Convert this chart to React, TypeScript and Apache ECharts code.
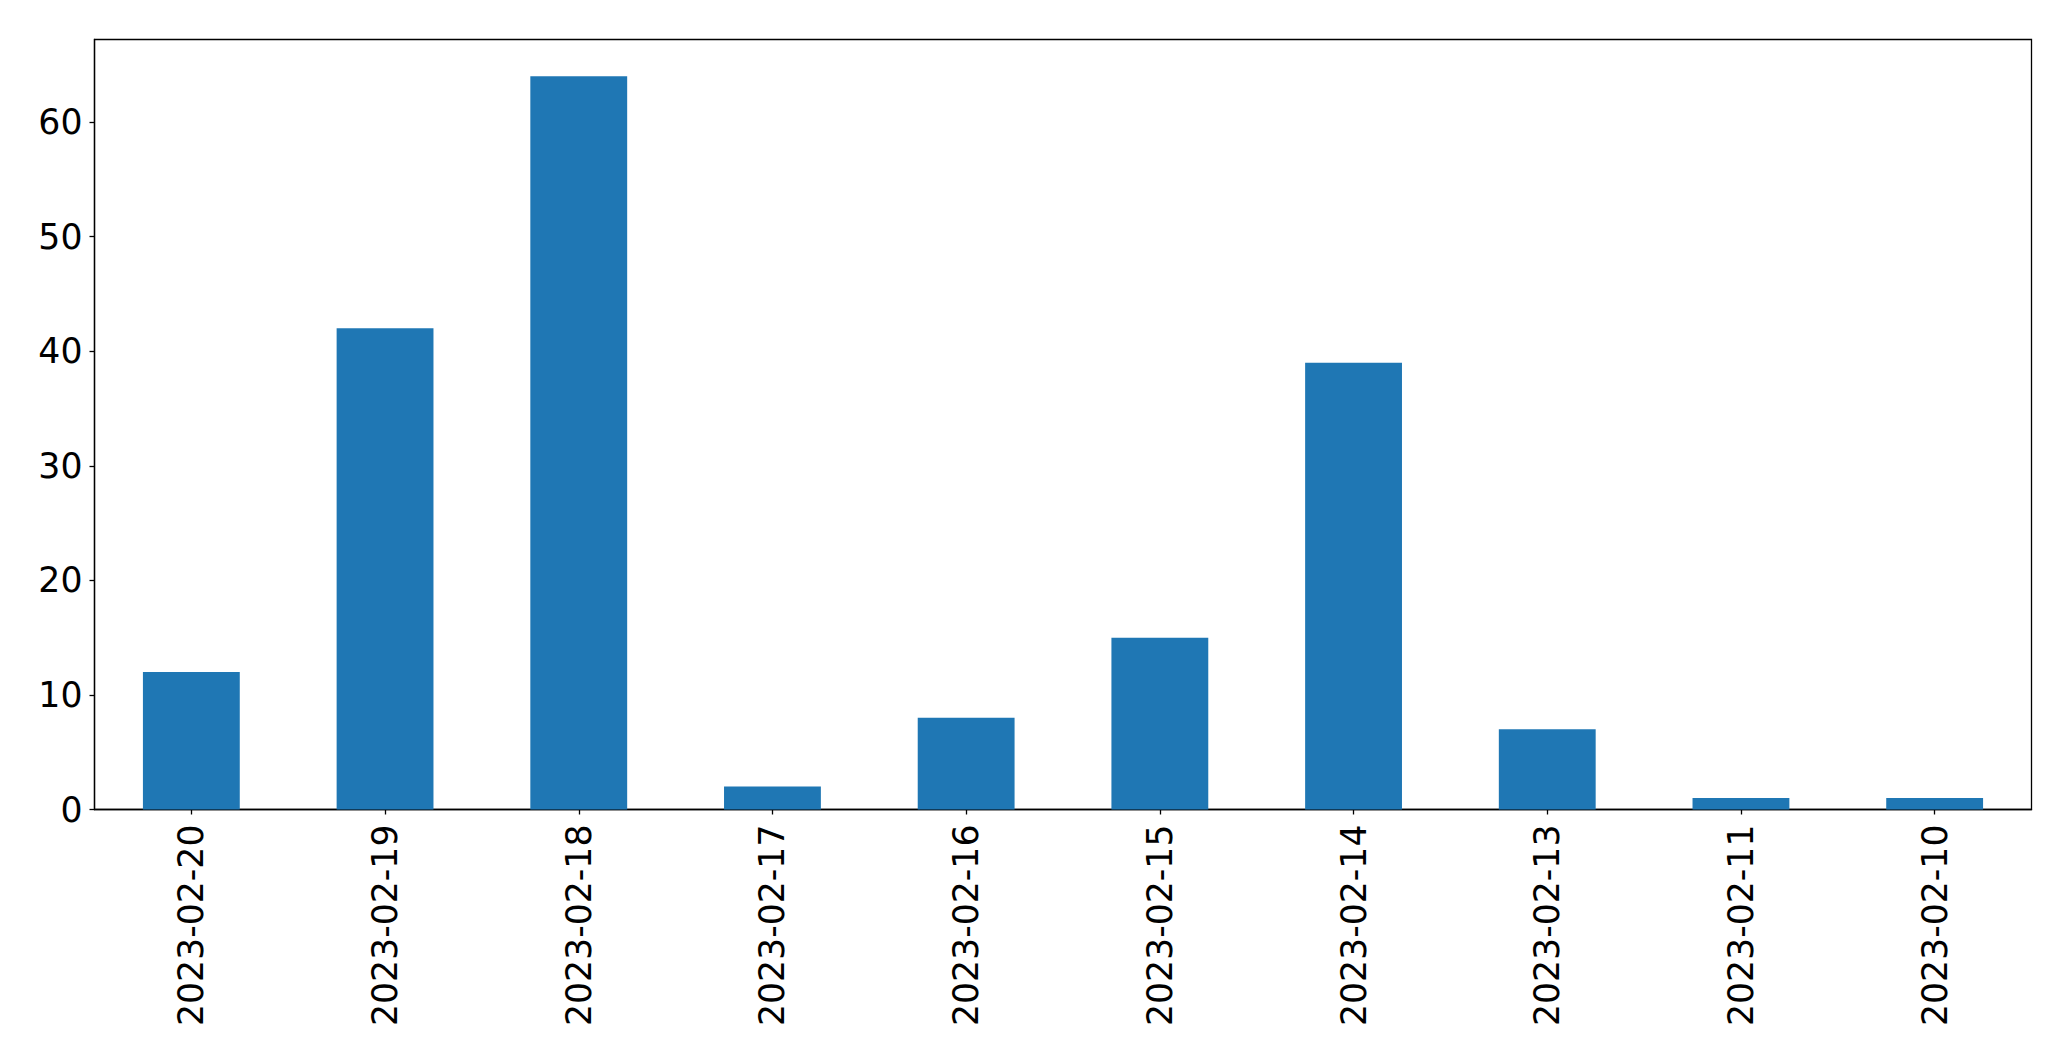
import React, { useEffect, useRef } from "react";
import * as echarts from "echarts";

const categories = [
  "2023-02-20",
  "2023-02-19",
  "2023-02-18",
  "2023-02-17",
  "2023-02-16",
  "2023-02-15",
  "2023-02-14",
  "2023-02-13",
  "2023-02-11",
  "2023-02-10",
];
const values = [12, 42, 64, 2, 8, 15, 39, 7, 1, 1];
const yTicks = [0, 10, 20, 30, 40, 50, 60];

export default function App() {
  const ref = useRef<HTMLDivElement>(null);
  useEffect(() => {
    if (!ref.current) return;
    const chart = echarts.init(ref.current, undefined, { renderer: "svg" });
    const font = "DejaVu Sans";
    chart.setOption({
      animation: false,
      backgroundColor: "#ffffff",
      grid: {
        left: 94.5,
        top: 39.5,
        right: 39.5,
        bottom: 251.5,
        show: true,
        borderColor: "#000000",
        borderWidth: 1.3,
        backgroundColor: "transparent",
      },
      xAxis: {
        type: "category",
        data: categories,
        boundaryGap: true,
        axisLine: { show: true, lineStyle: { color: "#000000", width: 1.3 } },
        axisTick: {
          show: true,
          alignWithLabel: true,
          length: 5,
          lineStyle: { color: "#000000", width: 1.3 },
        },
        axisLabel: {
          rotate: 90,
          interval: 0,
          margin: 15,
          fontFamily: font,
          fontSize: 34.7,
          color: "#000000",
        },
        splitLine: { show: false },
      },
      yAxis: {
        type: "value",
        min: 0,
        max: 67.2,
        interval: 10,
        axisLine: { show: true, lineStyle: { color: "#000000", width: 1.3 } },
        axisTick: { show: true, length: 5, lineStyle: { color: "#000000", width: 1.3 } },
        axisLabel: {
          margin: 12,
          fontFamily: font,
          fontSize: 34.7,
          color: "#000000",
          formatter: (v: number) => (yTicks.includes(v) ? String(v) : ""),
          showMaxLabel: false,
        },
        splitLine: { show: false },
      },
      series: [
        {
          type: "bar",
          data: values,
          barWidth: "50%",
          itemStyle: { color: "#1f77b4" },
        },
      ],
    });
    return () => chart.dispose();
  }, []);
  return (
    <div
      ref={ref}
      style={{ position: "fixed", left: 0, top: 0, width: 2071, height: 1061 }}
    />
  );
}
